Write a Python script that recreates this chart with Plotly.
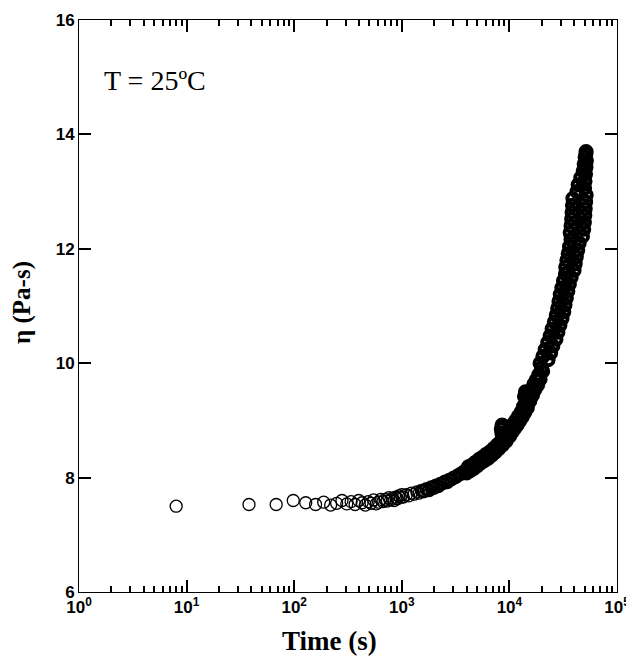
import plotly.graph_objects as go

# ---- data ----
time_early = [8, 38, 68, 98, 128, 158, 188, 218, 248, 278, 308, 338, 368, 398, 428,
              458, 488, 518, 548, 578, 608, 638, 668, 698, 728, 758, 788, 818, 848,
              878, 908, 938, 968, 998]
eta_early = [7.50, 7.53, 7.53, 7.60, 7.56, 7.53, 7.57, 7.52, 7.55, 7.60, 7.54, 7.58,
             7.53, 7.60, 7.56, 7.52, 7.58, 7.55, 7.61, 7.54, 7.57, 7.62, 7.58, 7.62,
             7.59, 7.65, 7.61, 7.64, 7.60, 7.66, 7.63, 7.68, 7.65, 7.70]

time_mid = [1030, 1100, 1160, 1230, 1300, 1380, 1450, 1530, 1610, 1700, 1790, 1880,
            1980, 2080, 2180, 2290, 2400, 2520, 2640, 2770, 2900, 3040, 3180, 3330,
            3480, 3640, 3800, 3970,
            4000, 4160, 4320, 4490, 4670, 4850, 5040, 5240, 5450, 5660, 5880, 6110,
            6350, 6600, 6860, 7130, 7410, 7700, 8000, 8310, 8640, 8980, 9330, 9700,
            10080, 8400, 8550, 8700, 8500,
            10300, 10600, 10900, 11200, 11500, 11800, 12100, 12450, 12800, 13150,
            13500, 13900, 14300, 14700, 15100, 15500, 15950, 16400, 16850, 17300,
            17800, 18300, 18800, 19300, 19850, 20400, 13800, 14100, 14400]
eta_mid = [7.66, 7.70, 7.68, 7.73, 7.71, 7.75, 7.73, 7.77, 7.76, 7.80, 7.78, 7.83,
           7.82, 7.86, 7.85, 7.89, 7.90, 7.93, 7.92, 7.96, 7.97, 8.00, 8.01, 8.04,
           8.06, 8.08, 8.11, 8.13,
           8.08, 8.19, 8.12, 8.22, 8.16, 8.27, 8.21, 8.32, 8.26, 8.36, 8.30, 8.41,
           8.34, 8.45, 8.39, 8.51, 8.45, 8.57, 8.51, 8.63, 8.57, 8.70, 8.64, 8.78,
           8.73, 8.85, 8.92, 8.88, 8.78,
           8.88, 8.80, 8.94, 8.86, 9.00, 8.92, 9.07, 8.99, 9.14, 9.06,
           9.24, 9.14, 9.33, 9.22, 9.42, 9.34, 9.51, 9.44, 9.63, 9.54,
           9.71, 9.62, 9.80, 9.72, 9.92, 9.86, 9.42, 9.50, 9.46]

time_late = [19260, 22900, 20470, 24190, 21490, 25370, 22700, 27090, 23910, 28270,
             24930, 29460, 26140, 30850, 27260, 32040, 28090, 32900, 28840, 33860,
             29670, 34940, 30700, 36120, 31810, 37520, 33120, 39930, 33360, 40920,
             34180, 41910, 35180, 43230, 36180, 44550, 37360, 47840, 36700, 49100,
             37390, 49800, 37830, 50260, 38170, 50720, 38520, 51180, 38870, 51750,
             42500, 50000, 43500, 50500, 46000, 51000, 48500, 51500, 49500, 52000,
             50500, 51500, 51600]
eta_late = [10.00, 10.06, 10.12, 10.18, 10.24, 10.30, 10.36, 10.42, 10.48, 10.54,
            10.60, 10.66, 10.72, 10.78, 10.84, 10.90, 10.96, 11.02, 11.08, 11.14,
            11.20, 11.26, 11.32, 11.38, 11.44, 11.50, 11.56, 11.62, 11.68, 11.74,
            11.80, 11.86, 11.92, 11.98, 12.04, 12.10, 12.16, 12.22, 12.28, 12.34,
            12.40, 12.46, 12.52, 12.58, 12.64, 12.70, 12.76, 12.82, 12.88, 12.94,
            13.00, 13.06, 13.12, 13.18, 13.24, 13.30, 13.36, 13.42, 13.48, 13.54,
            13.60, 13.66, 13.70]

x_tickvals = [1, 10, 100, 1000, 10000, 100000]
x_ticktext = ["<b>10<sup>0</sup></b>", "<b>10<sup>1</sup></b>", "<b>10<sup>2</sup></b>",
              "<b>10<sup>3</sup></b>", "<b>10<sup>4</sup></b>", "<b>10<sup>5</sup></b>"]
y_tickvals = [6, 8, 10, 12, 14, 16]
y_ticktext = ["<b>6</b>", "<b>8</b>", "<b>10</b>", "<b>12</b>", "<b>14</b>", "<b>16</b>"]

time_all = time_early + time_mid + time_late
eta_all = eta_early + eta_mid + eta_late

# heavier ring strokes / slightly smaller rings where the measured points crowd together
ring_width = [1.3 if t < 1500 else (2.2 if t < 4000 else 4.0) for t in time_all]
ring_size = [12 if t < 4000 else 11 for t in time_all]

fig = go.Figure()
fig.add_trace(go.Scatter(
    x=time_all, y=eta_all, mode="markers",
    marker=dict(symbol="circle-open", size=ring_size, color="black", opacity=1,
                line=dict(width=ring_width, color="black")),
    showlegend=False, hoverinfo="skip"))

fig.update_xaxes(type="log", range=[0, 5], tickvals=x_tickvals, ticktext=x_ticktext,
                 showline=True, linecolor="black", mirror="allticks",
                 ticks="inside", tickcolor="black", tickwidth=1.5, ticklen=12,
                 gridcolor="white",
                 minor=dict(ticks="inside", ticklen=6, tickcolor="black", tickwidth=1.5,
                            tickvals=[2, 3, 4, 5, 6, 7, 8, 9, 20, 30, 40, 50, 60, 70, 80, 90,
                                      200, 300, 400, 500, 600, 700, 800, 900,
                                      2000, 3000, 4000, 5000, 6000, 7000, 8000, 9000,
                                      20000, 30000, 40000, 50000, 60000, 70000, 80000, 90000]))
fig.update_yaxes(range=[6, 16], tickvals=y_tickvals, ticktext=y_ticktext,
                 showline=True, linecolor="black", mirror="allticks",
                 ticks="inside", tickcolor="black", tickwidth=1.5, ticklen=12,
                 gridcolor="white")

fig.add_annotation(text="T = 25ºC", xref="paper", yref="paper", x=0.0428, y=0.895,
                   xanchor="left", yanchor="middle", showarrow=False,
                   font=dict(family="Liberation Serif", size=28, color="black"))
fig.add_annotation(text="<b>Time (s)</b>", xref="paper", yref="paper", x=0.4665, y=-0.0857,
                   xanchor="center", yanchor="middle", showarrow=False,
                   font=dict(family="Liberation Serif", size=27, color="black"))
fig.add_annotation(text="<b>η (Pa-s)</b>", xref="paper", yref="paper", x=-0.106, y=0.507,
                   xanchor="center", yanchor="middle", showarrow=False, textangle=-90,
                   font=dict(family="Liberation Serif", size=25, color="black"))

# page body keeps an 8 px default margin, so the figure is 8 px smaller and shifted
fig.update_layout(width=626, height=652,
                  margin=dict(l=71, r=17, t=12, b=68, autoexpand=False),
                  font=dict(family="Liberation Sans", size=17, color="black"),
                  plot_bgcolor="white", paper_bgcolor="white")

fig.write_html("out.html")
